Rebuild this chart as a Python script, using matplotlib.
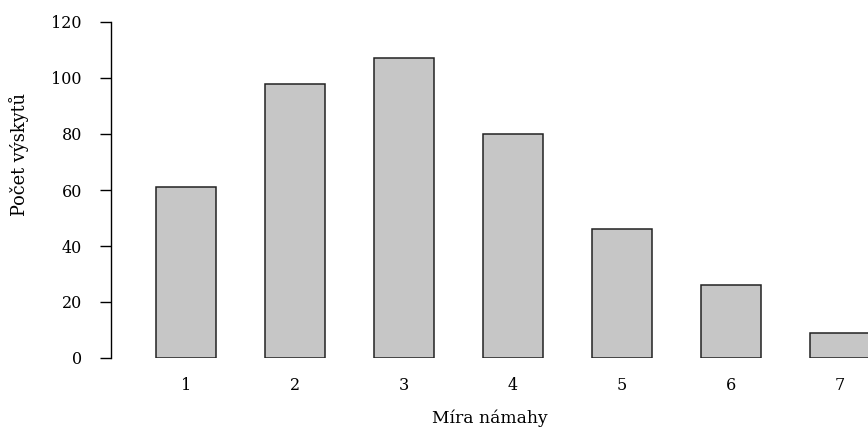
import matplotlib
matplotlib.use("Agg")
import matplotlib.pyplot as plt

# effort level vs number of occurrences
categories = ["1", "2", "3", "4", "5", "6", "7"]
counts = [61, 98, 107, 80, 46, 26, 9]
y_ticks = [0, 20, 40, 60, 80, 100, 120]

plt.rcParams["font.family"] = ["DejaVu Serif"]
plt.rcParams["font.size"] = 11.5

W, H = 868, 429
fig = plt.figure(figsize=(W / 100, H / 100), dpi=100)

# axes box in pixels: left spine at x=111, y 0..120 maps to 358..22
left, right, top, bottom = 111, 868, 22, 358
ax = fig.add_axes([left / W, 1 - bottom / H, (right - left) / W, (bottom - top) / H])

xs = list(range(1, len(categories) + 1))
ax.bar(xs, counts, width=0.55, color="#c6c6c6", edgecolor="#222222",
       linewidth=1.1, clip_on=True)

px = 109.0  # pixels per category step
ax.set_xlim(1 - (186 - left) / px, 1 + (right - 186) / px)
ax.set_ylim(0, 120)

ax.set_yticks(y_ticks)
ax.set_xticks(xs)
ax.set_xticklabels(categories)
ax.tick_params(axis="y", length=8, width=1, pad=13, direction="out")
ax.tick_params(axis="x", length=0, pad=14)
for s in ["top", "right", "bottom"]:
    ax.spines[s].set_visible(False)
ax.spines["left"].set_linewidth(1)
ax.spines["left"].set_bounds(0, 120)

fig.text(490 / W, 1 - 418 / H, "Míra námahy", ha="center", va="center",
         fontsize=12.3)
fig.text(19 / W, 1 - 155 / H, "Počet výskytů", ha="center", va="center",
         rotation=90, fontsize=12.8)

fig.savefig("out.png", dpi=100)
